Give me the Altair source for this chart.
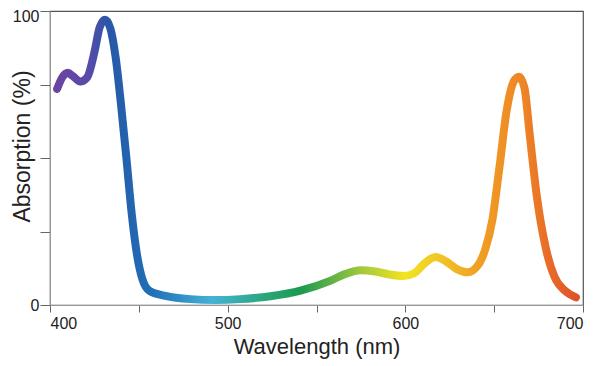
import altair as alt
import pandas as pd

wavelength = [404, 407, 410, 413, 417, 421, 425, 428, 431, 434, 437, 440, 443, 446, 449, 452, 456,
              465, 479, 493, 507, 524, 541, 558, 566, 575, 583, 591, 599, 605, 611, 617, 623, 629, 635,
              641, 645, 649, 653, 657, 661, 664, 667, 670, 674, 679, 684, 690, 696]
absorption = [73.5, 77.5, 79.0, 77.8, 76.0, 77.5, 86.0, 94.5, 97.0, 94.0, 84.0, 68.0, 50.0, 31.0, 17.0, 8.8, 4.8,
              3.1, 2.0, 1.7, 2.0, 3.0, 4.9, 8.3, 10.5, 11.8, 11.4, 10.4, 9.9, 10.8, 14.3, 16.3, 14.8, 12.2, 11.1,
              13.6, 19.0, 29.0, 47.0, 66.0, 76.0, 77.6, 74.0, 58.0, 37.0, 19.5, 9.5, 4.8, 2.6]

df = pd.DataFrame({"Wavelength": wavelength, "Absorption": absorption})

stops_pos = [0.0, 0.06, 0.10, 0.18, 0.30, 0.40, 0.47, 0.59, 0.67, 0.74, 0.81, 0.90, 1.0]
stops_col = ["#6a44a0", "#5a4aa8", "#2858a8", "#1f6fb6", "#45b2d6", "#2aa77a", "#1b9a50", "#a6ca3c",
             "#f2e420", "#f0c426", "#f0a024", "#ee8426", "#e0522a"]

grad = alt.Gradient(
    gradient="linear",
    stops=[alt.GradientStop(offset=o, color=c) for o, c in zip(stops_pos, stops_col)],
    x1=0, x2=1, y1=0, y2=0,
)

chart = alt.Chart(df).mark_line(
    stroke=grad, strokeWidth=8, interpolate="monotone", strokeCap="round", strokeJoin="round"
).encode(
    x=alt.X("Wavelength:Q", scale=alt.Scale(domain=[400, 700], nice=False, zero=False),
            axis=alt.Axis(title="Wavelength (nm)", values=[400, 450, 500, 550, 600, 650, 700],
                          labelExpr="datum.value % 100 == 0 ? datum.label : ''",
                          grid=False, tickSize=7, labelPadding=3, titlePadding=5,
                          titleFontSize=22)),
    y=alt.Y("Absorption:Q", scale=alt.Scale(domain=[0, 100], nice=False),
            axis=alt.Axis(title="Absorption (%)", values=[0, 25, 50, 75, 100],
                          labelExpr="datum.value == 0 || datum.value == 100 ? datum.label : ''",
                          labelOffset={"condition": {"test": "datum.value == 100", "value": 5}, "value": 0},
                          grid=False, tickSize=10, labelPadding=1,
                          titleFontSize=23,
                          titleX=-21, titleY=135, titleBaseline="alphabetic", titleAngle=270)),
).properties(
    width=533, height=294,
    autosize=alt.AutoSizeParams(type="none"),
    padding={"left": 42, "top": 3, "right": 8, "bottom": 61},
).configure_view(
    stroke="#555", strokeWidth=1.2
).configure_axis(
    domainColor="#999", tickColor="#666", labelColor="#222", titleColor="#222",
    labelFont="Liberation Sans", titleFont="Liberation Sans",
    labelFontSize=16, titleFontWeight="normal",
)

chart.save("out.html", embed_options={"renderer": "svg", "actions": False})
